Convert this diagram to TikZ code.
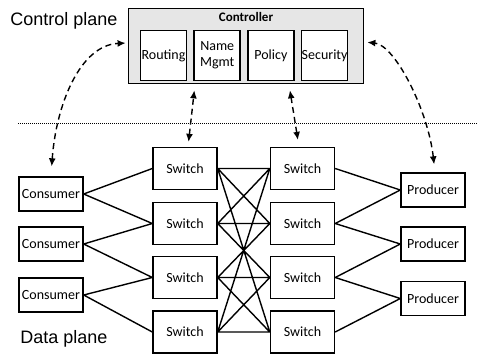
\documentclass[tikz,border=0pt]{standalone}
\usepackage{fontspec}
\setmainfont{Carlito}
\newfontfamily\planefont{Liberation Sans}
\usetikzlibrary{arrows.meta,positioning,calc}
\definecolor{ctrlgray}{HTML}{E6E6E6}

\begin{document}
\begin{tikzpicture}[
    x=1pt,y=-1pt,
    font=\fontsize{14}{16}\selectfont,
    box/.style={draw,line width=1.4pt,fill=white,inner sep=0pt,align=center},
    host/.style={box,minimum width=64pt,minimum height=34pt},
    sw/.style={box,minimum width=64pt,minimum height=42pt},
    app/.style={box,line width=1.7pt,minimum width=46pt,minimum height=50pt},
    plane/.style={font=\planefont\fontsize{18}{20}\selectfont},
    link/.style={line width=1.4pt},
    ctl/.style={line width=1.4pt,dash pattern=on 6pt off 4pt,{Latex[length=8pt,width=7pt]}-{Latex[length=8pt,width=7pt]}}
  ]
    \useasboundingbox (0,0) rectangle (477,356);

    % control plane
    \node[plane] (cplane) at (64,21) {Control plane};
    \node[draw,line width=1.8pt,fill=ctrlgray,minimum width=235pt,minimum height=75pt] (ctrl) at (246,46) {};
    \node[font=\bfseries\fontsize{13}{15}\selectfont] (ctitle) at (246,17) {Controller};
    \node[app] (routing) at (163.5,55.5) {Routing};
    \node[app,right=6pt of routing] (naming) {Name\\Mgmt};
    \node[app,right=6pt of naming] (policy) {Policy};
    \node[app,right=6pt of policy] (security) {Security};

    % separator
    \coordinate (sepl) at (18,123);
    \coordinate (sepr) at (477,123);
    \draw[line width=0.8pt,dash pattern=on 1pt off 1pt] (sepl) -- (sepr);

    % data plane
    \node[plane] (dplane) at (64,339) {Data plane};
    \node[host] (c1) at (51,194) {Consumer};
    \node[host] (c2) at (51,244) {Consumer};
    \node[host] (c3) at (51,295) {Consumer};

    \node[sw] (swl1) at (185,168.5) {Switch};
    \node[sw] (swl2) at (185,223.5) {Switch};
    \node[sw] (swl3) at (185,277.5) {Switch};
    \node[sw] (swl4) at (185,332) {Switch};
    \node[sw] (swr1) at (302.5,168.5) {Switch};
    \node[sw] (swr2) at (302.5,223.5) {Switch};
    \node[sw] (swr3) at (302.5,277.5) {Switch};
    \node[sw] (swr4) at (302.5,332) {Switch};

    \node[host] (p1) at (433,190) {Producer};
    \node[host] (p2) at (433,244) {Producer};
    \node[host] (p3) at (433,298.5) {Producer};

    \draw[link] (c1.east) -- (swl1.west) (c1.east) -- (swl2.west)
                (c2.east) -- (swl2.west) (c2.east) -- (swl3.west)
                (c3.east) -- (swl3.west) (c3.east) -- (swl4.west);
    \draw[link] (swl1.east) -- (swr1.west) (swl1.east) -- (swr2.west)
                (swl2.east) -- (swr1.west) (swl2.east) -- (swr2.west)
                (swl1.east) -- (swr4.west) (swl4.east) -- (swr1.west)
                (swl2.east) -- (swr3.west) (swl3.east) -- (swr2.west)
                (swl3.east) -- (swr3.west) (swl3.east) -- (swr4.west)
                (swl4.east) -- (swr3.west) (swl4.east) -- (swr4.west);
    \draw[link] (swr1.east) -- (p1.west) (swr2.east) -- (p1.west)
                (swr2.east) -- (p2.west) (swr3.east) -- (p2.west)
                (swr3.east) -- (p3.west) (swr4.east) -- (p3.west);

    % controller sessions
    \draw[ctl,shorten <=10pt,shorten >=2pt] (c1.north) .. controls (56,105) and (80,45) .. ([yshift=3pt]ctrl.west);
    \draw[ctl,shorten <=8pt,shorten >=3pt] ([xshift=2pt]p1.north) .. controls (428,110) and (395,45) .. ([yshift=4pt]ctrl.east);
    \draw[ctl,shorten <=5pt,shorten >=6pt] ([xshift=3pt]swl1.north) -- ([xshift=-51pt]ctrl.south);
    \draw[ctl,shorten <=7pt,shorten >=6pt] ([xshift=-3.5pt]swr1.north) -- ([xshift=43pt]ctrl.south);
  \end{tikzpicture}
\end{document}
